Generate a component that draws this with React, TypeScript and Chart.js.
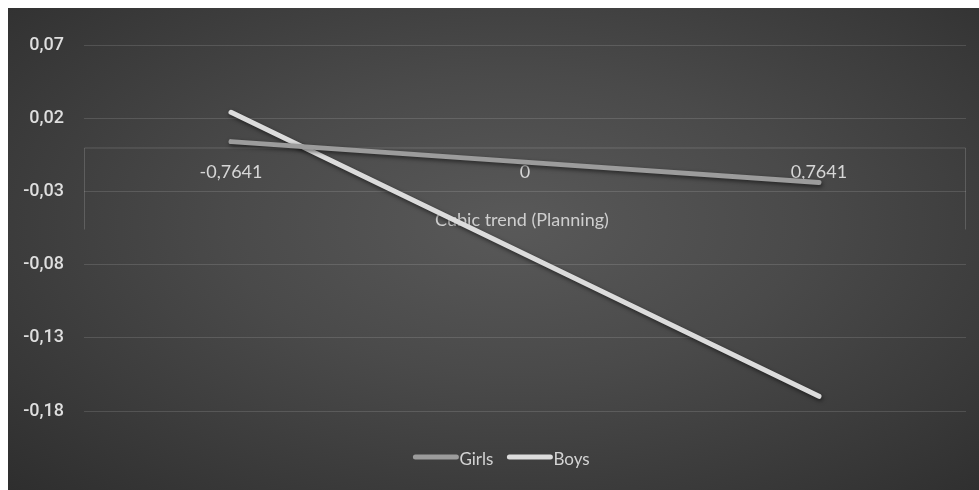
import React, { useEffect, useRef } from "react";
import { Chart, registerables } from "chart.js";
Chart.register(...registerables);

const CATEGORIES = ["-0,7641", "0", "0,7641"];
const SERIES_NAMES = ["Girls", "Boys"];
const GIRLS = [0.004, -0.010, -0.024];
const BOYS = [0.024, -0.073, -0.170];
const Y_TICKS = [-0.18, -0.13, -0.08, -0.03, 0.02, 0.07];
const X_TITLE = "Cubic trend (Planning)";

const COLORS = ["#9c9c9c", "#dcdcdc"];
const LABEL_FONT = "Lato, 'Open Sans', sans-serif";

const fmt = (v: number) => v.toFixed(2).replace(".", ",");

const xAxisPlugin = {
  id: "xAxisCross",
  beforeDatasetsDraw(chart: any) {
    const { ctx, chartArea, scales } = chart;
    const y0 = scales.y.getPixelForValue(0);
    ctx.save();
    ctx.strokeStyle = "rgba(255,255,255,0.16)";
    ctx.lineWidth = 1;
    ctx.beginPath();
    ctx.moveTo(chartArea.left + 0.5, y0 + 0.5);
    ctx.lineTo(chartArea.right - 0.5, y0 + 0.5);
    ctx.moveTo(chartArea.left + 0.5, y0 + 0.5);
    ctx.lineTo(chartArea.left + 0.5, y0 + 82);
    ctx.moveTo(chartArea.right - 0.5, y0 + 0.5);
    ctx.lineTo(chartArea.right - 0.5, y0 + 82);
    ctx.stroke();
    ctx.fillStyle = "#d6d6d6";
    ctx.font = `18px ${LABEL_FONT}`;
    ctx.textAlign = "center";
    ctx.textBaseline = "middle";
    CATEGORIES.forEach((c, i) => {
      ctx.fillText(c, scales.x.getPixelForTick(i), y0 + 25);
    });
    ctx.fillStyle = "#cfcfcf";
    ctx.font = `18px ${LABEL_FONT}`;
    ctx.fillText(X_TITLE, (chartArea.left + chartArea.right) / 2 - 3, y0 + 73);
    ctx.restore();
  },
  beforeDatasetDraw(chart: any) {
    const ctx = chart.ctx;
    ctx.save();
    ctx.shadowColor = "rgba(0,0,0,0.55)";
    ctx.shadowBlur = 4;
    ctx.shadowOffsetX = 1;
    ctx.shadowOffsetY = 2;
  },
  afterDatasetDraw(chart: any) {
    chart.ctx.restore();
  },
  afterDraw(chart: any) {
    const { ctx } = chart;
    ctx.save();
    ctx.font = `17px ${LABEL_FONT}`;
    ctx.textBaseline = "middle";
    ctx.textAlign = "left";
    const lineW = 45;
    const gapText = 1;
    const gapItem = 14;
    const items = chart.data.datasets.map((d: any) => ({
      label: d.label,
      color: d.borderColor,
      w: ctx.measureText(d.label).width,
    }));
    const total = items.reduce((s: number, it: any, i: number) => s + lineW + gapText + it.w + (i > 0 ? gapItem : 0), 0);
    let x = chart.width / 2 + 8 - total / 2;
    const y = chart.chartArea.bottom + 46;
    items.forEach((it: any) => {
      ctx.strokeStyle = it.color;
      ctx.lineWidth = 5;
      ctx.lineCap = "round";
      ctx.beginPath();
      ctx.moveTo(x + 2, y);
      ctx.lineTo(x + lineW - 2, y);
      ctx.stroke();
      x += lineW + gapText;
      ctx.fillStyle = "#d4d4d4";
      ctx.fillText(it.label, x, y + 3);
      x += it.w + gapItem;
    });
    ctx.restore();
  },
};

export default function App() {
  const ref = useRef<HTMLCanvasElement | null>(null);
  useEffect(() => {
    if (!ref.current) return;
    const chart = new Chart(ref.current, {
      type: "line",
      data: {
        labels: CATEGORIES,
        datasets: [
          {
            label: SERIES_NAMES[0],
            data: GIRLS,
            borderColor: COLORS[0],
            backgroundColor: COLORS[0],
            borderWidth: 5,
            borderCapStyle: "round",
            pointRadius: 0,
            tension: 0,
          },
          {
            label: SERIES_NAMES[1],
            data: BOYS,
            borderColor: COLORS[1],
            backgroundColor: COLORS[1],
            borderWidth: 5,
            borderCapStyle: "round",
            pointRadius: 0,
            tension: 0,
          },
        ],
      },
      plugins: [xAxisPlugin],
      options: {
        animation: false,
        responsive: false,
        maintainAspectRatio: false,
        layout: { padding: { top: 37, right: 13, bottom: 79, left: 0 } },
        plugins: { legend: { display: false }, tooltip: { enabled: false } },
        scales: {
          x: {
            type: "category",
            offset: true,
            display: false,
          },
          y: {
            min: Y_TICKS[0],
            max: Y_TICKS[Y_TICKS.length - 1],
            afterBuildTicks: (s: any) => {
              s.ticks = Y_TICKS.map((v) => ({ value: v }));
            },
            afterFit: (s: any) => {
              s.width = 76;
            },
            border: { display: false },
            grid: { color: "rgba(255,255,255,0.13)", lineWidth: 1, drawTicks: false },
            ticks: {
              padding: 20,
              color: "#dedede",
              font: { family: "Roboto, Arial, sans-serif", size: 18, weight: "500" },
              callback: (v: any) => fmt(Number(v)),
            },
          },
        },
      },
    } as any);
    return () => chart.destroy();
  }, []);

  return (
    <div
      style={{
        position: "absolute",
        left: 8,
        top: 8,
        width: 971,
        height: 482,
        background:
          "radial-gradient(ellipse farthest-corner at 52% 45%, #595959 0%, #4a4a4a 40%, #2e2e2e 100%)",
      }}
    >
      <canvas ref={ref} width={971} height={482} style={{ display: "block" }} />
    </div>
  );
}
